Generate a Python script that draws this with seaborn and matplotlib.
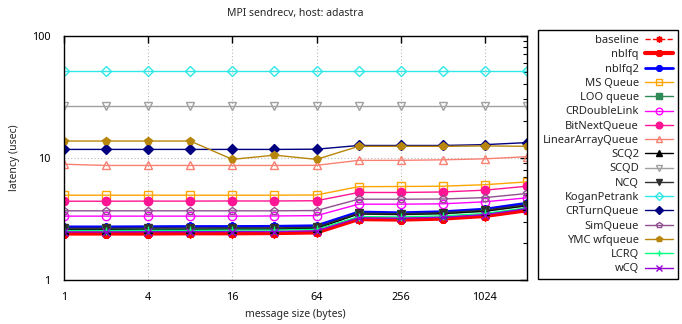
import matplotlib
matplotlib.use("Agg")
import matplotlib.pyplot as plt
import seaborn as sns
import numpy as np
from matplotlib.ticker import FixedLocator, FixedFormatter, NullLocator, LogLocator, NullFormatter

sns.set_theme(style="white")
plt.rcParams['font.family'] = ['Noto Sans', 'DejaVu Sans']

# message sizes in bytes
sizes = [1, 2, 4, 8, 16, 32, 64, 128, 256, 512, 1024, 2048]

# latency (usec) per queue implementation
baseline        = [2.37, 2.37, 2.37, 2.38, 2.38, 2.39, 2.42, 3.12, 3.08, 3.15, 3.30, 3.68]
nblfq           = [2.40, 2.40, 2.40, 2.41, 2.41, 2.42, 2.45, 3.15, 3.12, 3.18, 3.34, 3.72]
nblfq2          = [2.72, 2.72, 2.73, 2.74, 2.74, 2.75, 2.78, 3.60, 3.55, 3.62, 3.80, 4.25]
ms_queue        = [4.94, 4.94, 4.94, 4.94, 4.94, 4.94, 4.96, 5.80, 5.82, 5.85, 6.02, 6.35]
loo_queue       = [2.60, 2.60, 2.61, 2.61, 2.62, 2.62, 2.66, 3.46, 3.42, 3.48, 3.64, 4.04]
crdoublelink    = [3.33, 3.33, 3.33, 3.33, 3.33, 3.34, 3.36, 4.17, 4.17, 4.20, 4.36, 4.70]
bitnextqueue    = [4.41, 4.41, 4.42, 4.42, 4.43, 4.43, 4.45, 5.20, 5.20, 5.25, 5.43, 5.85]
lineararrayq    = [8.85, 8.65, 8.65, 8.65, 8.65, 8.65, 8.67, 9.52, 9.52, 9.62, 9.80, 10.2]
scq2            = [2.58, 2.58, 2.59, 2.59, 2.60, 2.60, 2.64, 3.48, 3.44, 3.50, 3.66, 4.06]
scqd            = [26.3, 26.3, 26.3, 26.3, 26.3, 26.3, 26.3, 26.3, 26.3, 26.3, 26.3, 26.3]
ncq             = [2.65, 2.65, 2.66, 2.66, 2.67, 2.67, 2.70, 3.52, 3.48, 3.55, 3.72, 4.12]
koganpetrank    = [51.0, 51.0, 51.0, 51.0, 51.0, 51.0, 51.0, 51.0, 51.0, 51.0, 51.0, 51.0]
crturnqueue     = [11.7, 11.7, 11.7, 11.7, 11.7, 11.7, 11.75, 12.6, 12.6, 12.6, 12.8, 13.3]
simqueue        = [3.68, 3.68, 3.68, 3.68, 3.68, 3.68, 3.70, 4.58, 4.58, 4.60, 4.72, 5.10]
ymc_wfqueue     = [13.7, 13.7, 13.7, 13.7, 9.7, 10.5, 9.7, 12.4, 12.4, 12.4, 12.5, 12.4]
lcrq            = [2.54, 2.54, 2.55, 2.55, 2.56, 2.56, 2.60, 3.30, 3.28, 3.35, 3.50, 3.90]
wcq             = [2.47, 2.47, 2.48, 2.48, 2.49, 2.49, 2.52, 3.22, 3.20, 3.26, 3.42, 3.84]

series = [
    ("baseline",          baseline,     "#ff0000", (8, 2, 45), False, "--", 1.0),
    ("nblfq",             nblfq,        "#ff0000", (8, 2, 0),  True,  "-",  3.0),
    ("nblfq2",            nblfq2,       "#0000ff", (8, 2, 0),  True,  "-",  2.0),
    ("MS Queue",          ms_queue,     "#ffa500", "s",        False, "-",  1.0),
    ("LOO queue",         loo_queue,    "#2e8b57", "s",        True,  "-",  1.0),
    ("CRDoubleLink",      crdoublelink, "#ff00ff", "o",        False, "-",  1.0),
    ("BitNextQueue",      bitnextqueue, "#ff1493", "o",        True,  "-",  1.0),
    ("LinearArrayQueue",  lineararrayq, "#fa8072", "^",        False, "-",  1.0),
    ("SCQ2",              scq2,         "#000000", "^",        True,  "-",  1.0),
    ("SCQD",              scqd,         "#a0a0a0", "v",        False, "-",  1.0),
    ("NCQ",               ncq,          "#303030", "v",        True,  "-",  1.0),
    ("KoganPetrank",      koganpetrank, "#30e8e8", "D",        False, "-",  1.0),
    ("CRTurnQueue",       crturnqueue,  "#000080", "D",        True,  "-",  1.0),
    ("SimQueue",          simqueue,     "#905090", "p",        False, "-",  1.0),
    ("YMC wfqueue",       ymc_wfqueue,  "#b8860b", "p",        True,  "-",  1.0),
    ("LCRQ",              lcrq,         "#00ff7f", "+",        True,  "-",  1.0),
    ("wCQ",               wcq,          "#9400d3", "x",        True,  "-",  1.0),
]

fig = plt.figure(figsize=(6.82, 3.24), dpi=100)
ax = fig.add_axes([64 / 682, 1 - 280 / 324, (527 - 64) / 682, (280 - 35.5) / 324])

for name, vals, color, marker, filled, ls, lw in series:
    ms = 5.5 if marker in ("D", "p") else 6
    sns.lineplot(
        x=sizes, y=vals, ax=ax, color=color, marker=marker, linestyle=ls,
        linewidth=lw, markersize=ms,
        markerfacecolor=color if filled else "none",
        markeredgecolor=color, markeredgewidth=1.0 if lw < 2 else lw * 0.8,
        label=name, sort=False, estimator=None,
    )

ax.set_xscale("log", base=2)
ax.set_yscale("log")
ax.set_xlim(1, 2048)
ax.set_ylim(1, 100)

xt = [1, 4, 16, 64, 256, 1024]
ax.xaxis.set_major_locator(FixedLocator(xt))
ax.xaxis.set_major_formatter(FixedFormatter([str(v) for v in xt]))
ax.xaxis.set_minor_locator(NullLocator())
ax.yaxis.set_major_locator(FixedLocator([1, 10, 100]))
ax.yaxis.set_major_formatter(FixedFormatter(["1", "10", "100"]))
ax.yaxis.set_minor_locator(LogLocator(base=10, subs=np.arange(2, 10)))
ax.yaxis.set_minor_formatter(NullFormatter())

ax.tick_params(which="both", direction="in", top=True, right=True,
               colors="black", labelsize=7.8)
ax.tick_params(axis="x", which="major", pad=9)
ax.tick_params(axis="y", which="major", pad=10)
ax.tick_params(which="major", length=5, width=1)
ax.tick_params(which="minor", length=3, width=0.8)
ax.grid(True, which="major", color="#b8b8b8", linestyle=(0, (1, 2)), linewidth=0.8)

for sp in ax.spines.values():
    sp.set_color("black")
    sp.set_linewidth(1.0)

ax.set_title("MPI sendrecv, host: adastra", fontsize=7.5, pad=14)
ax.set_xlabel("message size (bytes)", fontsize=7.5, labelpad=4)
ax.set_ylabel("latency (usec)", fontsize=7.5, labelpad=8)

handles, labels = ax.get_legend_handles_labels()
if ax.legend_:
    ax.legend_.remove()
leg = fig.legend(handles, labels, loc="upper left",
                 bbox_to_anchor=(538 / 682, 1 - 30 / 324),
                 markerfirst=False, fontsize=8, frameon=True,
                 fancybox=False, edgecolor="black", framealpha=1,
                 handlelength=2.6, handletextpad=0.5, labelspacing=0.295,
                 markerscale=0.8, borderpad=0.45, borderaxespad=0)
leg.get_frame().set_linewidth(1.0)

fig.savefig("out.png", dpi=100)
